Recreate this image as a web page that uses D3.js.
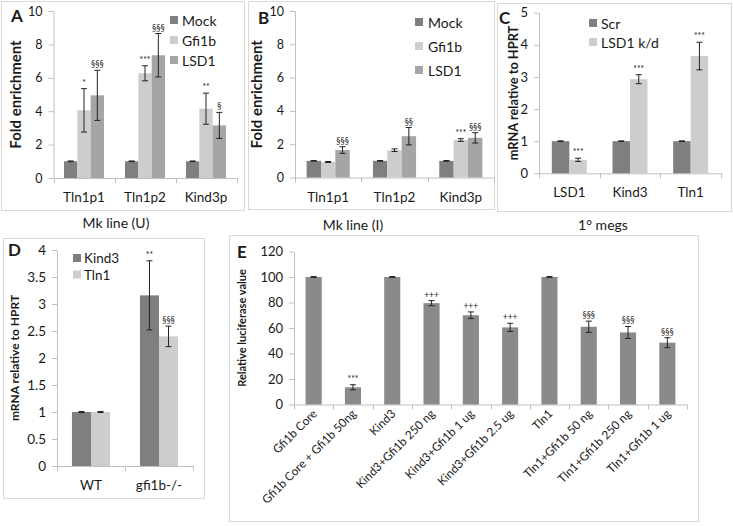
<!DOCTYPE html>
<html><head><meta charset="utf-8">
<script src="https://cdn.jsdelivr.net/npm/d3@7"></script>
<style>
body{margin:0;background:#fff}
svg{display:block}
text{font-family:Lato,"Open Sans",sans-serif;fill:#1a1a1a}
</style>
</head><body>
<svg id="c" width="733" height="526"></svg>
<script>
// ---------- DATA ----------
// Panel A: Mk line (U)
const aCategories = ["Tln1p1", "Tln1p2", "Kind3p"];
const aSeriesNames = ["Mock", "Gfi1b", "LSD1"];
const aMock = [1, 1, 1];
const aMockErr = [0.02, 0.02, 0.02];
const aGfi1b = [4.05, 6.27, 4.15];
const aGfi1bErr = [1.3, 0.45, 0.93];
const aLSD1 = [4.95, 7.35, 3.15];
const aLSD1Err = [1.5, 1.3, 0.78];
const aGfi1bSig = ["*", "***", "**"];
const aLSD1Sig = ["§§§", "§§§", "§"];
const aTicks = [0, 2, 4, 6, 8, 10];

// Panel B: Mk line (I)
const bCategories = ["Tln1p1", "Tln1p2", "Kind3p"];
const bSeriesNames = ["Mock", "Gfi1b", "LSD1"];
const bMock = [1, 1, 1];
const bMockErr = [0.02, 0.02, 0.02];
const bGfi1b = [0.93, 1.64, 2.25];
const bGfi1bErr = [0.03, 0.08, 0.08];
const bLSD1 = [1.65, 2.48, 2.38];
const bLSD1Err = [0.2, 0.52, 0.31];
const bGfi1bSig = ["", "", "***"];
const bLSD1Sig = ["§§§", "§§", "§§§"];
const bTicks = [0, 2, 4, 6, 8, 10];

// Panel C: 1° megs
const cCategories = ["LSD1", "Kind3", "Tln1"];
const cSeriesNames = ["Scr", "LSD1 k/d"];
const cScr = [1, 1, 1];
const cScrErr = [0.01, 0.01, 0.01];
const cKd = [0.42, 2.93, 3.65];
const cKdErr = [0.05, 0.14, 0.43];
const cScrSig = ["", "", ""];
const cKdSig = ["***", "***", "***"];
const cTicks = [0, 1, 2, 3, 4, 5];

// Panel D
const dCategories = ["WT", "gfi1b-/-"];
const dSeriesNames = ["Kind3", "Tln1"];
const dKind3 = [1, 3.16];
const dKind3Err = [0.01, 0.64];
const dTln1 = [1, 2.4];
const dTln1Err = [0.01, 0.19];
const dKind3Sig = ["", "**"];
const dTln1Sig = ["", "§§§"];
const dTicks = [0, 0.5, 1, 1.5, 2, 2.5, 3, 3.5, 4];

// Panel E
const eCategories = ["Gfi1b Core", "Gfi1b Core + Gfi1b 50ng", "Kind3", "Kind3+Gfi1b 250 ng",
  "Kind3+Gfi1b 1 ug", "Kind3+Gfi1b 2.5 ug", "Tln1", "Tln1+Gfi1b 50 ng", "Tln1+Gfi1b 250 ng", "Tln1+Gfi1b 1 ug"];
const eValues = [100, 13.5, 100, 79.5, 70, 60.5, 100, 61, 56.5, 48.5];
const eErr = [0.3, 2, 0.3, 2, 2.6, 3.2, 0.3, 4.4, 4.7, 3.9];
const eSig = ["", "***", "", "+++", "+++", "+++", "", "§§§", "§§§", "§§§"];
const eTicks = [0, 20, 40, 60, 80, 100, 120];

// ---------- DRAW ----------
const svg = d3.select("#c");
const AXIS = "#bfbfbf";
const BORDER = "#d9d9d9";

function drawPanel(cfg) {
  const g = svg.append("g");
  g.append("rect").attr("x", cfg.box[0] + 0.5).attr("y", cfg.box[1] + 0.5)
    .attr("width", cfg.box[2]).attr("height", cfg.box[3])
    .attr("fill", "none").attr("stroke", BORDER);

  const y = d3.scaleLinear().domain([0, cfg.yMax]).range([cfg.yBottom, cfg.yTop]);
  const x = d3.scaleBand().domain(cfg.categories).range([cfg.xLeft, cfg.xRight]);
  const names = cfg.series.map(s => s.name);
  const gw = x.bandwidth() * cfg.groupFrac;
  const inner = d3.scaleBand().domain(names).range([0, gw]);
  const off = (x.bandwidth() - gw) / 2;

  // y axis
  const ya = g.append("g").attr("transform", `translate(${cfg.xLeft},0)`)
    .call(d3.axisLeft(y).tickValues(cfg.yTicks).tickSize(5).tickSizeOuter(0).tickPadding(6)
      .tickFormat(cfg.fmt || (d => d)));
  ya.select(".domain").attr("stroke", AXIS);
  ya.selectAll(".tick line").attr("stroke", AXIS);
  ya.selectAll(".tick text").style("font-family", "Lato, sans-serif")
    .style("font-size", cfg.tickFont + "px").attr("fill", "#1a1a1a");

  // x axis
  g.append("line").attr("x1", cfg.xLeft).attr("x2", cfg.xRight)
    .attr("y1", cfg.yBottom + 0.5).attr("y2", cfg.yBottom + 0.5).attr("stroke", AXIS);
  const bounds = cfg.categories.map(c => x(c)).concat([cfg.xRight]);
  g.selectAll(".xt").data(bounds).join("line")
    .attr("x1", d => Math.round(d) + 0.5).attr("x2", d => Math.round(d) + 0.5)
    .attr("y1", cfg.yBottom).attr("y2", cfg.yBottom + 5).attr("stroke", AXIS);

  // bars + error bars + significance marks
  cfg.series.forEach(s => {
    const gs = g.append("g");
    cfg.categories.forEach((c, i) => {
      const bx = x(c) + off + inner(s.name);
      const bw = inner.bandwidth();
      const v = s.values[i], e = s.errs[i];
      gs.append("rect").attr("x", bx).attr("y", y(v)).attr("width", bw)
        .attr("height", y(0) - y(v)).attr("fill", s.color);
      const cx = bx + bw / 2;
      const cw = cfg.capW || 3;
      gs.append("line").attr("x1", cx).attr("x2", cx).attr("y1", y(v + e)).attr("y2", y(v - e))
        .attr("stroke", "#222").attr("stroke-width", 1);
      [v + e, v - e].forEach(t => {
        gs.append("line").attr("x1", cx - cw).attr("x2", cx + cw).attr("y1", y(t)).attr("y2", y(t))
          .attr("stroke", "#222").attr("stroke-width", 1);
      });
      if (s.sigs && s.sigs[i]) {
        gs.append("text").attr("x", cx).attr("y", y(v + e) - 3).attr("text-anchor", "middle")
          .style("font-size", (cfg.sigFont || 8.5) + "px").attr("fill", "#444").text(s.sigs[i]);
      }
    });
  });

  // category labels
  if (cfg.rotateLabels) {
    cfg.categories.forEach(c => {
      const cx = x(c) + x.bandwidth() / 2;
      g.append("text").attr("transform", `translate(${cx + 4},${cfg.yBottom + 10}) rotate(-45)`)
        .attr("text-anchor", "end").style("font-size", cfg.catFont + "px").text(c);
    });
  } else {
    cfg.categories.forEach(c => {
      g.append("text").attr("x", x(c) + x.bandwidth() / 2).attr("y", cfg.catY)
        .attr("text-anchor", "middle").style("font-size", cfg.catFont + "px").text(c);
    });
  }

  // y title
  g.append("text").attr("transform", `translate(${cfg.yTitleX},${(cfg.yTop + cfg.yBottom) / 2}) rotate(-90)`)
    .attr("text-anchor", "middle").attr("dominant-baseline", "central")
    .style("font-size", cfg.yTitleFont + "px").style("font-weight", "bold").text(cfg.yTitle);

  // panel letter
  g.append("text").attr("x", cfg.letterPos[0]).attr("y", cfg.letterPos[1])
    .style("font-size", "17px").style("font-weight", "bold").text(cfg.letter);

  // legend
  if (cfg.legend) {
    const L = cfg.legend;
    cfg.series.forEach((s, i) => {
      const ly = L.y + i * L.dy;
      g.append("rect").attr("x", L.x).attr("y", ly - L.sq / 2).attr("width", L.sq).attr("height", L.sq)
        .attr("fill", s.color);
      g.append("text").attr("x", L.x + L.sq + L.gap).attr("y", ly).attr("dominant-baseline", "central")
        .style("font-size", L.font + "px").text(s.name);
    });
  }

  // section title
  if (cfg.section) {
    svg.append("text").attr("x", cfg.section.x).attr("y", cfg.section.y).attr("text-anchor", "middle")
      .style("font-size", "14px").text(cfg.section.text);
  }
}

const C_DARK = "#7f7f7f", C_LIGHT = "#cdcdcd", C_MID = "#a5a5a5";

drawPanel({
  box: [1, 1, 243, 209], letter: "A", letterPos: [11, 22],
  yMax: 10, yTicks: aTicks, yTop: 11, yBottom: 178, xLeft: 53.5, xRight: 236.5,
  categories: aCategories, groupFrac: 0.656, tickFont: 12.5, catFont: 13.5, catY: 202,
  yTitle: "Fold enrichment", yTitleX: 15, yTitleFont: 15,
  series: [
    { name: aSeriesNames[0], values: aMock, errs: aMockErr, sigs: null, color: C_DARK },
    { name: aSeriesNames[1], values: aGfi1b, errs: aGfi1bErr, sigs: aGfi1bSig, color: C_LIGHT },
    { name: aSeriesNames[2], values: aLSD1, errs: aLSD1Err, sigs: aLSD1Sig, color: C_MID }],
  legend: { x: 170, y: 20, dy: 20, sq: 8, gap: 4, font: 14 },
  section: { x: 116, y: 228, text: "Mk line (U)" }
});

drawPanel({
  box: [248, 1, 246, 208], letter: "B", letterPos: [258, 24],
  yMax: 10, yTicks: bTicks, yTop: 11, yBottom: 177.5, xLeft: 295, xRight: 494,
  categories: bCategories, groupFrac: 0.65, tickFont: 12.5, catFont: 13.5, catY: 202,
  yTitle: "Fold enrichment", yTitleX: 256, yTitleFont: 15,
  series: [
    { name: bSeriesNames[0], values: bMock, errs: bMockErr, sigs: null, color: C_DARK },
    { name: bSeriesNames[1], values: bGfi1b, errs: bGfi1bErr, sigs: bGfi1bSig, color: C_LIGHT },
    { name: bSeriesNames[2], values: bLSD1, errs: bLSD1Err, sigs: bLSD1Sig, color: C_MID }],
  legend: { x: 415, y: 22, dy: 24, sq: 8, gap: 5, font: 14 },
  section: { x: 353, y: 230, text: "Mk line (I)" }
});

drawPanel({
  box: [497, 3, 234, 208], letter: "C", letterPos: [499, 24],
  yMax: 5, yTicks: cTicks, yTop: 12.7, yBottom: 173.3, xLeft: 539, xRight: 721,
  categories: cCategories, groupFrac: 0.577, tickFont: 13, catFont: 13.5, catY: 197,
  yTitle: "mRNA relative to HPRT", yTitleX: 512.5, yTitleFont: 12.8,
  series: [
    { name: cSeriesNames[0], values: cScr, errs: cScrErr, sigs: cScrSig, color: C_DARK },
    { name: cSeriesNames[1], values: cKd, errs: cKdErr, sigs: cKdSig, color: C_LIGHT }],
  legend: { x: 589, y: 23, dy: 19, sq: 8, gap: 4, font: 14 },
  section: { x: 603, y: 230, text: "1° megs" }
});

drawPanel({
  box: [3, 238, 201, 260], letter: "D", letterPos: [8, 256],
  yMax: 4, yTicks: dTicks, yTop: 250, yBottom: 466, xLeft: 57, xRight: 193,
  categories: dCategories, groupFrac: 0.56, tickFont: 13.5, catFont: 13.5, catY: 490,
  yTitle: "mRNA relative to HPRT", yTitleX: 14, yTitleFont: 12,
  series: [
    { name: dSeriesNames[0], values: dKind3, errs: dKind3Err, sigs: dKind3Sig, color: C_DARK },
    { name: dSeriesNames[1], values: dTln1, errs: dTln1Err, sigs: dTln1Sig, color: C_LIGHT }],
  legend: { x: 73, y: 258, dy: 16.5, sq: 8, gap: 3, font: 13.5 }
});

drawPanel({
  box: [229, 235, 469, 286], letter: "E", letterPos: [237, 258],
  yMax: 120, yTicks: eTicks, yTop: 251.5, yBottom: 404.5, xLeft: 294, xRight: 687,
  categories: eCategories, groupFrac: 0.41, tickFont: 13, catFont: 11.8, rotateLabels: true,
  yTitle: "Relative luciferase value", yTitleX: 241, yTitleFont: 11,
  series: [
    { name: "Relative luciferase", values: eValues, errs: eErr, sigs: eSig, color: "#8a8a8a" }]
});
</script>
</body></html>
